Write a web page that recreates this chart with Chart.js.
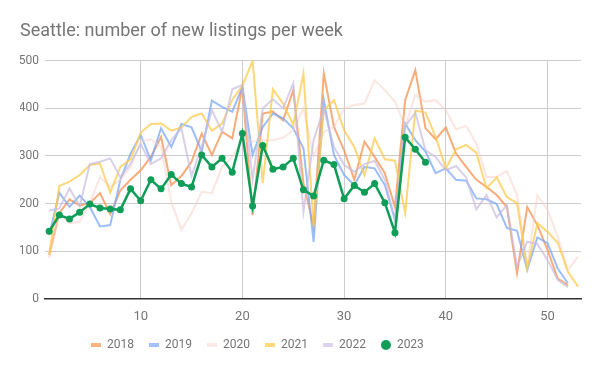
<!DOCTYPE html>
<html lang="en">
<head>
    <meta charset="UTF-8">
    <title>Seattle: number of new listings per week</title>
    <script src="https://cdn.jsdelivr.net/npm/chart.js"></script>
    <style>
        body { margin: 0; background: #fff; }
        .wrap { width: 600px; height: 371px; }
    </style>
</head>
<body>
    <div class="wrap">
        <canvas id="listingsChart"></canvas>
    </div>
    <script>
        // week numbers on the x axis
        const weeks = [1, 2, 3, 4, 5, 6, 7, 8, 9, 10, 11, 12, 13, 14, 15, 16, 17, 18, 19, 20,
            21, 22, 23, 24, 25, 26, 27, 28, 29, 30, 31, 32, 33, 34, 35, 36, 37, 38, 39, 40,
            41, 42, 43, 44, 45, 46, 47, 48, 49, 50, 51, 52, 53];
        const xTicks = [10, 20, 30, 40, 50];
        const yTicks = [0, 100, 200, 300, 400, 500];

        const years = ['2018', '2019', '2020', '2021', '2022', '2023'];

        // new listings per week
        const listings2018 = [92, 180, 209, 196, 201, 222, 178, 228, 250, 270, 298, 340, 239, 258, 288, 347, 302, 351, 337, 445,
            176, 389, 393, 375, 438, 243, 152, 473, 361, 312, 250, 330, 298, 264, 193, 417, 480, 358, 335, 360,
            305, 277, 250, 235, 218, 193, 54, 193, 155, 103, 43, 29];
        const listings2019 = [134, 223, 193, 217, 193, 152, 155, 250, 305, 344, 291, 358, 319, 367, 360, 309, 416, 403, 393, 445,
            302, 361, 389, 379, 358, 316, 120, 417, 302, 260, 239, 277, 274, 239, 166, 368, 333, 309, 264, 274,
            250, 248, 211, 209, 199, 149, 143, 61, 129, 117, 64, 33];
        const listings2020 = [86, 180, 159, 162, 201, 256, 235, 250, 277, 330, 335, 319, 204, 145, 180, 225, 222, 277, 298, 333,
            330, 333, 333, 338, 354, 400, 300, 350, 361, 400, 407, 410, 459, 438, 414, 361, 428, 414, 417, 396,
            356, 363, 326, 256, 256, 268, 218, 68, 218, 187, 131, 61, 89];
        const listings2021 = [93, 237, 246, 260, 281, 284, 223, 277, 293, 349, 367, 368, 353, 360, 382, 389, 353, 368, 418, 447,
            500, 243, 440, 410, 365, 473, 152, 396, 417, 354, 319, 259, 337, 293, 290, 180, 395, 391, 340, 274,
            314, 323, 307, 232, 255, 214, 201, 64, 159, 141, 118, 57, 26];
        const listings2022 = [185, 190, 232, 195, 283, 288, 295, 255, 284, 325, 283, 295, 333, 358, 258, 320, 396, 351, 440, 449,
            250, 400, 419, 400, 453, 183, 333, 400, 319, 281, 267, 283, 290, 250, 166, 362, 391, 312, 298, 270,
            279, 255, 188, 218, 171, 197, 68, 120, 115, 82, 40, 25];
        const listings2023 = [142, 176, 168, 182, 199, 191, 189, 187, 231, 206, 250, 231, 261, 242, 235, 302, 277, 295, 266, 347,
            195, 322, 272, 277, 295, 229, 216, 291, 282, 210, 238, 224, 242, 202, 139, 339, 314, 287];

        const seriesValues = [listings2018, listings2019, listings2020, listings2021, listings2022, listings2023];
        const lineColors = ['rgba(247,150,88,0.8)', 'rgba(122,168,245,0.75)', 'rgba(247,205,198,0.5)',
            'rgba(253,203,75,0.75)', 'rgba(200,188,224,0.7)', '#0f9d58'];
        const swatchColors = ['#fbb27f', '#a1c2fa', '#fbe9e7', '#fdd97a', '#dcd3ea', '#0f9d58'];

        // small legend swatches: flat bar for the lines, dot for 2023
        function makeSwatch(color, round) {
            const c = document.createElement('canvas');
            c.width = 10;
            c.height = round ? 10 : 4;
            const g = c.getContext('2d');
            g.fillStyle = color;
            if (round) {
                g.beginPath();
                g.arc(5, 5, 5, 0, Math.PI * 2);
                g.fill();
            } else {
                g.fillRect(0, 0, 10, 4);
            }
            return c;
        }
        const swatches = swatchColors.map((col, i) => makeSwatch(col, i === 5));

        const datasets = years.map((year, i) => {
            const last = i === years.length - 1;
            return {
                label: year,
                data: seriesValues[i].map((v, j) => ({ x: weeks[j], y: v })),
                borderColor: lineColors[i],
                backgroundColor: lineColors[i],
                borderWidth: last ? 2.5 : 2,
                pointRadius: last ? 3.5 : 0,
                pointHoverRadius: last ? 3.5 : 0,
                pointBorderWidth: 0,
                tension: 0,
                order: years.length - 1 - i
            };
        });

        // google-style legend starts left of centre
        const legendOffset = {
            id: 'legendOffset',
            afterLayout(chart) {
                chart.legend.left = 76;
            }
        };

        const gridGrey = '#cccccc';
        const textGrey = '#757575';

        new Chart(document.getElementById('listingsChart'), {
            type: 'line',
            data: { datasets: datasets },
            plugins: [legendOffset],
            options: {
                responsive: true,
                maintainAspectRatio: false,
                animation: false,
                layout: { padding: { left: 20, right: 19, top: 0, bottom: 10 } },
                scales: {
                    x: {
                        type: 'linear',
                        min: 0.59,
                        max: 53.29,
                        afterBuildTicks: (scale) => { scale.ticks = xTicks.map(v => ({ value: v })); },
                        afterFit: (scale) => { scale.height = 25; },
                        grid: { color: gridGrey, drawTicks: false },
                        border: { color: '#333333', width: 1.5 },
                        ticks: {
                            color: textGrey,
                            font: { family: 'Roboto', size: 13 },
                            padding: 10,
                            maxRotation: 0
                        }
                    },
                    y: {
                        min: 0,
                        max: 500,
                        afterBuildTicks: (scale) => { scale.ticks = yTicks.map(v => ({ value: v })); },
                        afterFit: (scale) => { scale.width = 25; },
                        grid: {
                            color: (c) => c.tick && c.tick.value === 0 ? 'rgba(0,0,0,0)' : gridGrey,
                            drawTicks: false
                        },
                        border: { display: false },
                        ticks: {
                            color: textGrey,
                            font: { family: 'Roboto', size: 12 },
                            padding: 6
                        }
                    }
                },
                plugins: {
                    title: {
                        display: true,
                        text: 'Seattle: number of new listings per week',
                        align: 'start',
                        color: textGrey,
                        font: { family: 'Roboto', size: 18, weight: 'normal', lineHeight: 1.2 },
                        padding: { top: 21, bottom: 18 }
                    },
                    legend: {
                        position: 'bottom',
                        align: 'start',
                        labels: {
                            color: textGrey,
                            font: { family: 'Roboto', size: 12 },
                            boxWidth: 10,
                            boxHeight: 10,
                            usePointStyle: true,
                            padding: 15,
                            sort: (a, b) => a.datasetIndex - b.datasetIndex,
                            generateLabels(chart) {
                                const items = Chart.defaults.plugins.legend.labels.generateLabels(chart);
                                items.forEach(it => { it.pointStyle = swatches[it.datasetIndex]; });
                                return items;
                            }
                        }
                    },
                    tooltip: { enabled: false }
                }
            }
        });
    </script>
</body>
</html>
